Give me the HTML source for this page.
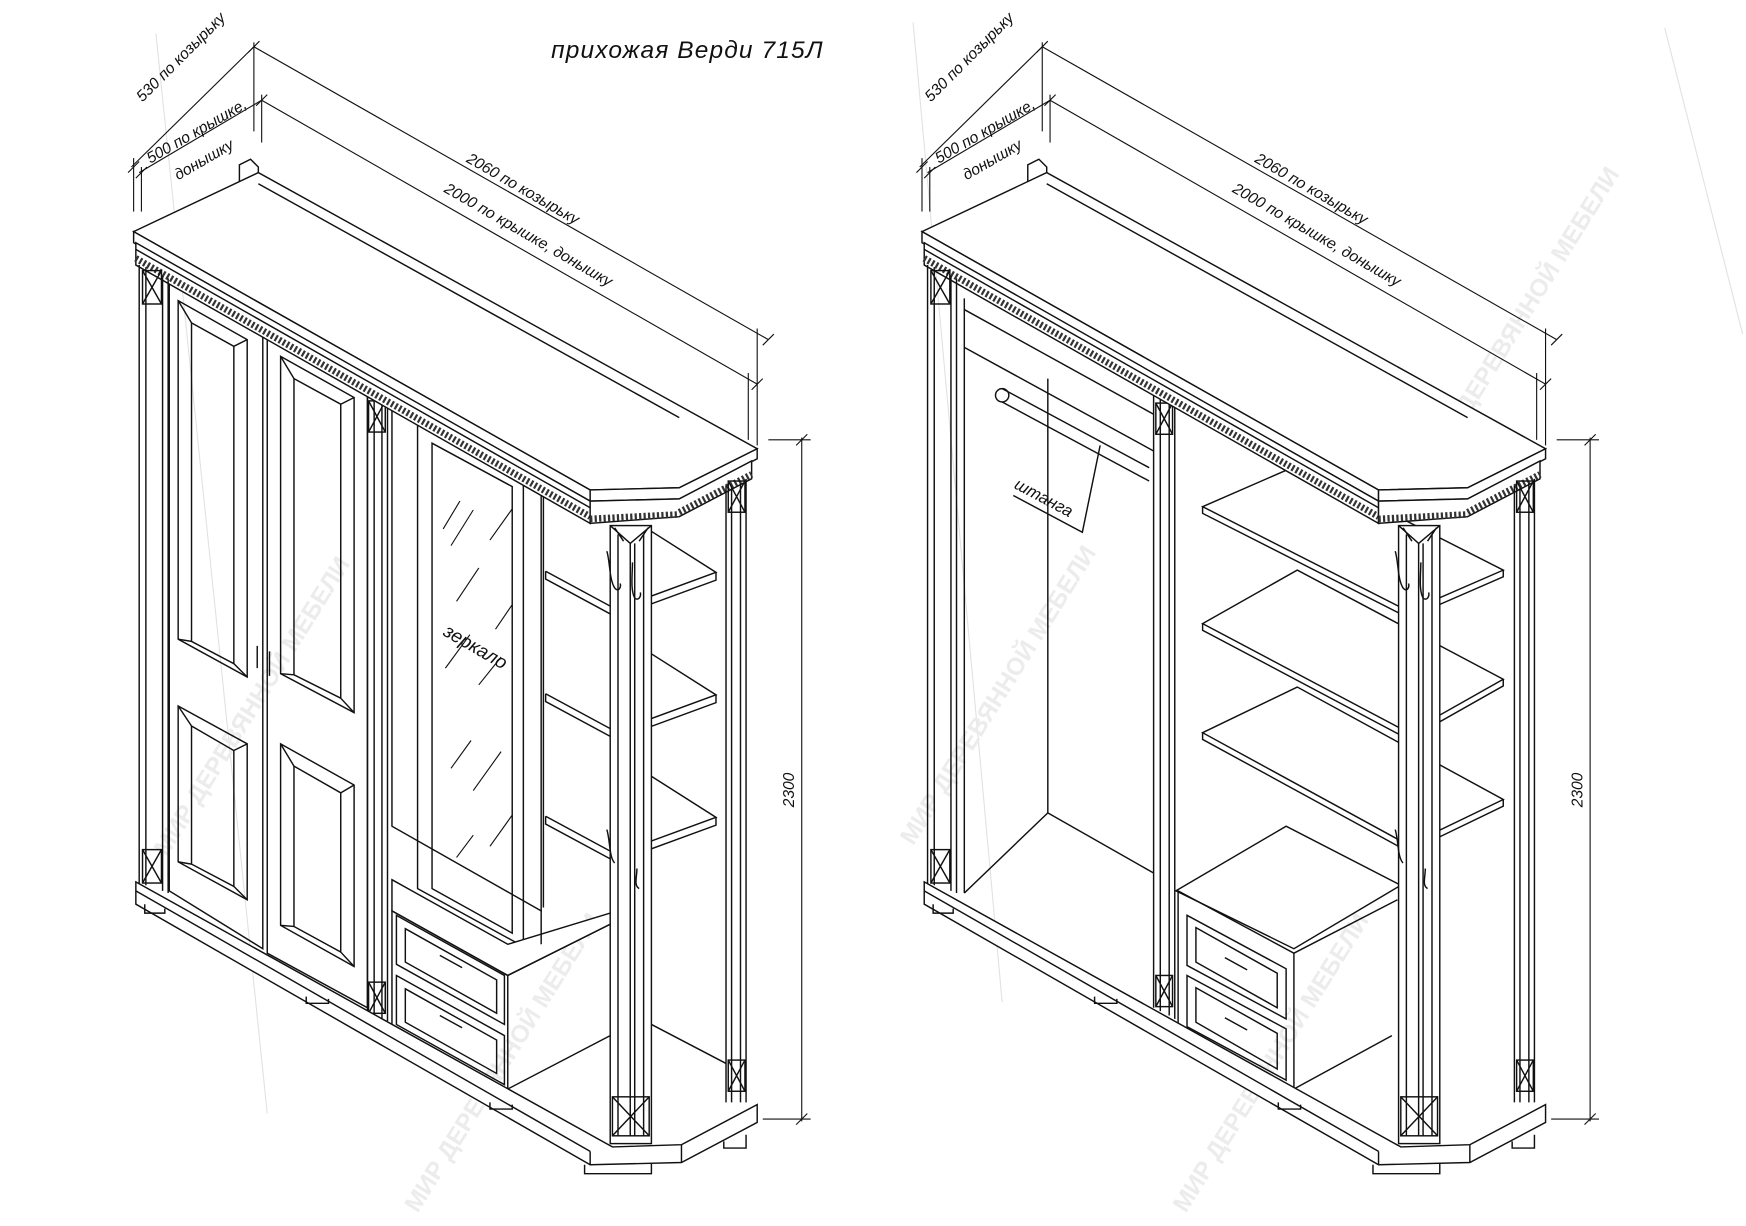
<!DOCTYPE html>
<html><head><meta charset="utf-8"><style>
html,body{margin:0;padding:0;background:#fff}
svg{display:block}
text{font-family:"Liberation Sans","DejaVu Sans",sans-serif;font-style:italic;fill:#111}
text.wm{fill:#ececec;font-style:normal;font-weight:bold}
</style></head><body>
<svg width="1746" height="1226" viewBox="0 0 1568 1101" preserveAspectRatio="none" xmlns="http://www.w3.org/2000/svg">
<defs>
<g id="shell" fill="none" stroke="#111" stroke-width="1.3">
  <polyline points="215,210 215,148 225,143 232,150 232,158"/>
  <polygon points="120,208 232,155 680,403 610,438 530,440" fill="#fff"/>
  <line x1="232" y1="165" x2="610" y2="375"/>
  <polygon points="120,208 530,440 530,450 120,218" fill="#fff"/>
  <polygon points="530,440 610,438 680,403 680,412 610,448 530,450" fill="#fff"/>
  <polygon points="122,218 530,450 530,470 122,238" fill="#fff"/>
  <line x1="122" y1="224" x2="530" y2="456"/>
  <line x1="122" y1="232" x2="530" y2="464" stroke-dasharray="2,2" stroke-width="6" stroke="#333"/>
  <polygon points="530,450 610,448 675,414 675,430 610,464 530,470" fill="#fff"/>
  <line x1="530" y1="466" x2="610" y2="462" stroke-dasharray="2,2" stroke-width="6" stroke="#333"/>
  <line x1="610" y1="460" x2="675" y2="426" stroke-dasharray="2,2" stroke-width="6" stroke="#333"/>
  <line x1="125" y1="238" x2="125" y2="795"/>
  <line x1="131" y1="240" x2="131" y2="795"/>
  <line x1="146" y1="248" x2="146" y2="800"/>
  <line x1="151" y1="250" x2="151" y2="802"/>
  <rect x="128" y="243" width="17" height="30"/>
  <path d="M128 243 L145 273 M145 243 L128 273"/>
  <rect x="128" y="763" width="17" height="30"/>
  <path d="M128 763 L145 793 M145 763 L128 793"/>
  <polygon points="122,792 550,1030 612,1028 680,992 680,1008 612,1044 530,1046 122,812" fill="#fff"/>
  <line x1="122" y1="800" x2="530" y2="1034"/>
  <line x1="530" y1="1034" x2="530" y2="1046"/>
  <line x1="612" y1="1028" x2="612" y2="1044"/>
  <path d="M130 812 v8 h18 v-4 M275 895 v6 h20 v-4 M440 990 v6 h20 v-4 M525 1046 v8 h60 v-9 M650 1025 v6 h20 v-12"/>
  <rect x="548" y="472" width="37" height="555" fill="#fff"/>
  <line x1="555" y1="480" x2="555" y2="1020"/>
  <line x1="566" y1="488" x2="566" y2="1020"/>
  <line x1="570" y1="488" x2="570" y2="1020"/>
  <line x1="578" y1="480" x2="578" y2="1020"/>
  <path d="M548 472 L566 488 L585 472 M552 474 l8 12 M582 474 l-8 12"/>
  <rect x="550" y="985" width="33" height="35"/>
  <path d="M550 985 L583 1020 M583 985 L550 1020"/>
  <path d="M545 495 c3 10 2 25 7 33 c3 4 6 0 5 -4 M568 505 c0 10 -2 25 2 32 c3 3 6 -1 5 -5 M545 745 c3 10 2 25 7 30 M572 780 c0 8 -3 15 2 18"/>
  <line x1="652" y1="436" x2="652" y2="990"/>
  <line x1="657" y1="438" x2="657" y2="990"/>
  <line x1="665" y1="434" x2="665" y2="990"/>
  <line x1="670" y1="430" x2="670" y2="990"/>
  <rect x="654" y="432" width="15" height="28"/>
  <path d="M654 432 L669 460 M669 432 L654 460"/>
  <rect x="654" y="952" width="15" height="28"/>
  <path d="M654 952 L669 980 M669 952 L654 980"/>
  <g stroke-width="1">
    <line x1="118" y1="150" x2="228" y2="42"/><line x1="125" y1="155" x2="235" y2="90"/>
    <line x1="228" y1="38" x2="228" y2="118"/><line x1="235" y1="85" x2="235" y2="128"/>
    <line x1="120" y1="142" x2="120" y2="190"/><line x1="127" y1="150" x2="127" y2="190"/>
    <line x1="228" y1="42" x2="690" y2="305"/><line x1="235" y1="90" x2="680" y2="345"/>
    <line x1="680" y1="295" x2="680" y2="400"/><line x1="672" y1="335" x2="672" y2="395"/>
    <line x1="720" y1="393" x2="720" y2="1007"/>
    <line x1="690" y1="395" x2="728" y2="395"/><line x1="685" y1="1005" x2="728" y2="1005"/>
    <path d="M715 400 l10 -10 M715 1010 l10 -10 M223 47 l10 -10 M230 95 l10 -10 M675 350 l10 -10 M685 310 l10 -10 M115 155 l10 -10 M122 160 l10 -10"/>
  </g>
</g>
</defs>

<g stroke="#e2e2e2" stroke-width="1" fill="none">
  <line x1="140" y1="30" x2="240" y2="1000"/>
  <line x1="820" y1="20" x2="900" y2="900"/>
  <line x1="1495" y1="25" x2="1565" y2="300"/>
</g>
<g font-size="22">
  <text class="wm" transform="translate(150,770) rotate(-58)">МИР ДЕРЕВЯННОЙ МЕБЕЛИ</text>
  <text class="wm" transform="translate(375,1090) rotate(-58)">МИР ДЕРЕВЯННОЙ МЕБЕЛИ</text>
  <text class="wm" transform="translate(820,760) rotate(-58)">МИР ДЕРЕВЯННОЙ МЕБЕЛИ</text>
  <text class="wm" transform="translate(1290,420) rotate(-58)">МИР ДЕРЕВЯННОЙ МЕБЕЛИ</text>
  <text class="wm" transform="translate(1065,1090) rotate(-58)">МИР ДЕРЕВЯННОЙ МЕБЕЛИ</text>
</g>

<text x="495" y="52" font-size="22" letter-spacing="1">прихожая Верди 715Л</text>

<!-- LEFT interior -->
<g fill="none" stroke="#111" stroke-width="1.3">
  <polygon points="152,252 236,298 236,852 152,800"/>
  <polygon points="240,300 330,350 330,905 240,856"/>
  <polygon points="160,270 222,305 222,608 160,574"/>
  <polygon points="172,290 210,311 210,596 172,576"/>
  <path d="M160 270 l12 20 M222 305 l-12 6 M222 608 l-12 -12 M160 574 l12 2"/>
  <polygon points="160,634 222,668 222,808 160,774"/>
  <polygon points="172,652 210,674 210,796 172,776"/>
  <path d="M160 634 l12 18 M222 668 l-12 6 M222 808 l-12 -12 M160 774 l12 2"/>
  <polygon points="252,320 318,357 318,640 252,605"/>
  <polygon points="264,340 306,363 306,627 264,606"/>
  <path d="M252 320 l12 20 M318 357 l-12 6 M318 640 l-12 -13 M252 605 l12 1"/>
  <polygon points="252,668 318,705 318,868 252,831"/>
  <polygon points="264,688 306,712 306,855 264,832"/>
  <path d="M252 668 l12 20 M318 705 l-12 7 M318 868 l-12 -13 M252 831 l12 1"/>
  <path d="M231 580 v20 M242 585 v22"/>
  <line x1="330" y1="350" x2="330" y2="910"/><line x1="336" y1="354" x2="336" y2="912"/>
  <line x1="343" y1="358" x2="343" y2="915"/><line x1="348" y1="360" x2="348" y2="917"/>
  <rect x="331" y="360" width="15" height="28"/><path d="M331 360 L346 388 M346 360 L331 388"/>
  <rect x="331" y="882" width="15" height="28"/><path d="M331 882 L346 910 M346 882 L331 910"/>
  <polygon points="352,362 486,438 486,818 352,742"/>
  <polygon points="375,378 470,430 470,850 375,798"/>
  <polygon points="388,398 460,437 460,838 388,798"/>
  <g stroke-width="1">
    <path d="M398 475 l15 -25 M405 490 l20 -32 M440 485 l20 -28 M410 540 l20 -30 M445 565 l15 -22 M400 600 l22 -30 M430 615 l20 -25 M405 690 l18 -25 M425 710 l25 -35 M440 760 l20 -28 M410 770 l15 -20"/>
  </g>
  <polygon points="352,790 456,848 548,820 548,830 456,876 352,818" fill="#fff"/>
  <polygon points="352,818 456,876 456,978 352,920"/>
  <line x1="456" y1="876" x2="548" y2="830"/>
  <polygon points="356,822 453,876 453,920 356,866"/>
  <polygon points="364,834 446,880 446,910 364,864"/>
  <polygon points="356,876 453,930 453,974 356,920"/>
  <polygon points="364,888 446,934 446,964 364,918"/>
  <path d="M395 858 l20 11 M395 912 l20 11"/>
  <line x1="456" y1="978" x2="548" y2="930"/>
  <line x1="486" y1="818" x2="486" y2="848"/>
  <line x1="488" y1="440" x2="488" y2="815"/>
  <!-- shelves: L(490,513) B(580,470) R(643,514) F(553,557) -->
  <polyline points="490,513 553,547 643,514 580,474"/>
  <polyline points="490,513 490,520 553,554 643,521 643,514"/>
  <polyline points="490,623 553,657 643,624 580,584"/>
  <polyline points="490,623 490,630 553,664 643,631 643,624"/>
  <polyline points="490,733 553,767 643,734 580,694"/>
  <polyline points="490,733 490,740 553,774 643,741 643,734"/>
  <line x1="585" y1="920" x2="652" y2="955"/>
</g>
<text transform="translate(397,570) rotate(30)" font-size="17">зеркало</text>

<!-- RIGHT interior -->
<g fill="none" stroke="#111" stroke-width="1.3">
  <line x1="866" y1="268" x2="866" y2="802"/>
  <polyline points="866,278 1036,372"/>
  <polyline points="866,312 1036,405"/>
  <line x1="941" y1="340" x2="941" y2="730"/>
  <polyline points="866,802 941,730 1036,784"/>
  <circle cx="900" cy="355" r="6"/>
  <path d="M900 349 L1032 420 M900 361 L1032 432"/>
  <path d="M988 400 L972 478 L910 445"/>
  <line x1="1036" y1="355" x2="1036" y2="905"/><line x1="1042" y1="358" x2="1042" y2="908"/>
  <line x1="1050" y1="362" x2="1050" y2="912"/><line x1="1055" y1="365" x2="1055" y2="915"/>
  <rect x="1038" y="362" width="15" height="28"/><path d="M1038 362 L1053 390 M1053 362 L1038 390"/>
  <rect x="1038" y="876" width="15" height="28"/><path d="M1038 876 L1053 904 M1053 876 L1038 904"/>
  <polygon points="1080,455 1165,418 1350,512 1265,549" fill="#fff"/>
  <polyline points="1080,455 1080,461 1265,555 1350,518 1350,512"/>
  <polygon points="1080,560 1165,512 1350,610 1265,658" fill="#fff"/>
  <polyline points="1080,560 1080,566 1265,664 1350,616 1350,610"/>
  <polygon points="1080,658 1165,617 1350,718 1265,759" fill="#fff"/>
  <polyline points="1080,658 1080,664 1265,765 1350,724 1350,718"/>
  <polygon points="1056,800 1155,742 1258,795 1162,852" fill="#fff"/>
  <polygon points="1058,800 1162,856 1162,978 1058,920"/>
  <line x1="1162" y1="856" x2="1255" y2="808"/>
  <line x1="1162" y1="978" x2="1250" y2="930"/>
  <polygon points="1066,822 1155,870 1155,915 1066,867"/>
  <polygon points="1074,833 1147,874 1147,905 1074,864"/>
  <polygon points="1066,876 1155,924 1155,970 1066,922"/>
  <polygon points="1074,887 1147,928 1147,960 1074,918"/>
  <path d="M1100 860 l20 11 M1100 914 l20 11"/>
</g>
<text transform="translate(910,438) rotate(28)" font-size="15">штанга</text>

<use href="#shell"/>
<use href="#shell" transform="translate(708,0)"/>

<g font-size="14">
  <text transform="translate(128,92) rotate(-45)">530 по козырьку</text>
  <text transform="translate(135,147) rotate(-30)">500 по крышке,</text>
  <text transform="translate(160,162) rotate(-30)">донышку</text>
  <text transform="translate(418,145) rotate(30)">2060 по козырьку</text>
  <text transform="translate(398,172) rotate(30)">2000 по крышке, донышку</text>
  <text transform="translate(713,725) rotate(-90)">2300</text>
  <text transform="translate(836,92) rotate(-45)">530 по козырьку</text>
  <text transform="translate(843,147) rotate(-30)">500 по крышке,</text>
  <text transform="translate(868,162) rotate(-30)">донышку</text>
  <text transform="translate(1126,145) rotate(30)">2060 по козырьку</text>
  <text transform="translate(1106,172) rotate(30)">2000 по крышке, донышку</text>
  <text transform="translate(1421,725) rotate(-90)">2300</text>
</g>
</svg>
</body></html>
